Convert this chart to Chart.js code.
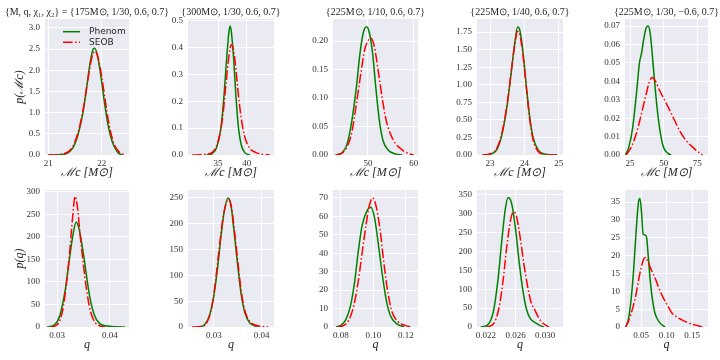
<!DOCTYPE html>
<html>
<head>
<meta charset="utf-8">
<script src="https://cdn.jsdelivr.net/npm/chart.js@4"></script>
<style>
  body { margin: 0; width: 720px; height: 360px; overflow: hidden; background: #fff; position: relative; }
  canvas { position: absolute; }
</style>
</head>
<body>
<script>
// ---- data ----
const seriesNames = ['Phenom', 'SEOB'];
const titles = [
  '{M, q, χ₁, χ₂} = {175M⊙, 1/30, 0.6, 0.7}',
  '{300M⊙, 1/30, 0.6, 0.7}',
  '{225M⊙, 1/10, 0.6, 0.7}',
  '{225M⊙, 1/40, 0.6, 0.7}',
  '{225M⊙, 1/30, −0.6, 0.7}'
];
const xTitles = ['ℳc [M⊙]', 'q'];
const yTitles = ['p(ℳc)', 'p(q)'];

// chirp mass, 175
const p1Phenom = [[21.00,0],[21.30,0.02],[21.45,0.15],[21.55,0.45],[21.65,1.0],[21.72,1.6],[21.78,2.15],[21.84,2.5],[21.87,2.52],[21.92,2.35],[21.98,1.9],[22.05,1.25],[22.12,0.7],[22.20,0.3],[22.30,0.06],[22.38,0]];
const p1Seob = [[21.00,0],[21.25,0.02],[21.45,0.18],[21.55,0.5],[21.65,1.05],[21.72,1.6],[21.79,2.15],[21.85,2.43],[21.88,2.45],[21.93,2.3],[22.00,1.85],[22.07,1.25],[22.14,0.7],[22.22,0.3],[22.32,0.08],[22.45,0]];
const p1XTicks = ['21', '22'];
const p1YTicks = ['0.0', '0.5', '1.0', '1.5', '2.0', '2.5', '3.0'];
const p1XRange = [20.94, 22.51];
const p1YMax = 3.21;

// chirp mass, 300
const p2Phenom = [[33.0,0],[34.0,0.005],[34.8,0.03],[35.5,0.10],[36.0,0.21],[36.5,0.36],[36.9,0.46],[37.1,0.48],[37.3,0.46],[37.7,0.36],[38.1,0.22],[38.5,0.11],[39.0,0.04],[39.6,0.01],[40.5,0]];
const p2Seob = [[30.5,0],[32.5,0.002],[34.0,0.01],[35.0,0.05],[35.8,0.14],[36.4,0.27],[36.9,0.37],[37.3,0.41],[37.6,0.40],[38.0,0.34],[38.5,0.23],[39.0,0.14],[39.6,0.07],[40.5,0.025],[41.5,0.01],[42.5,0.003],[44.0,0]];
const p2XTicks = ['35', '40'];
const p2YTicks = ['0.0', '0.1', '0.2', '0.3', '0.4', '0.5'];
const p2XRange = [29.8, 44.7];
const p2YMax = 0.506;

// chirp mass, 225 q=1/10
const p3Phenom = [[43.0,0],[44.5,0.005],[45.5,0.02],[46.5,0.06],[47.5,0.12],[48.3,0.18],[49.0,0.215],[49.7,0.225],[50.3,0.215],[51.0,0.18],[51.7,0.12],[52.5,0.06],[53.3,0.025],[54.5,0.008],[56.0,0.002],[57.5,0]];
const p3Seob = [[43.0,0],[44.5,0.004],[45.5,0.015],[46.5,0.04],[47.5,0.09],[48.4,0.14],[49.3,0.185],[50.0,0.2],[50.7,0.205],[51.4,0.19],[52.2,0.15],[53.1,0.10],[54.0,0.06],[55.0,0.035],[56.0,0.02],[57.0,0.012],[58.0,0.006],[59.0,0.002],[60.0,0]];
const p3XTicks = ['50', '60'];
const p3YTicks = ['0.00', '0.05', '0.10', '0.15', '0.20'];
const p3XRange = [42.4, 60.9];
const p3YMax = 0.2386;

// chirp mass, 225 q=1/40
const p4Phenom = [[22.78,0],[23.00,0.01],[23.20,0.08],[23.35,0.3],[23.50,0.72],[23.62,1.2],[23.72,1.6],[23.80,1.82],[23.85,1.8],[23.95,1.5],[24.05,1.0],[24.15,0.55],[24.25,0.25],[24.40,0.07],[24.60,0.01],[24.95,0]];
const p4Seob = [[22.78,0],[23.00,0.015],[23.20,0.1],[23.35,0.32],[23.50,0.74],[23.62,1.2],[23.72,1.58],[23.80,1.76],[23.86,1.72],[23.95,1.45],[24.05,0.98],[24.15,0.52],[24.25,0.22],[24.40,0.05],[24.60,0.008],[24.95,0]];
const p4XTicks = ['23', '24', '25'];
const p4YTicks = ['0.00', '0.25', '0.50', '0.75', '1.00', '1.25', '1.50', '1.75'];
const p4XRange = [22.62, 25.12];
const p4YMax = 1.935;

// chirp mass, 225 chi1=-0.6
const p5Phenom = [[21.5,0],[24,0.004],[27,0.015],[30,0.035],[32,0.05],[33.5,0.055],[35,0.062],[37,0.069],[38.5,0.07],[40,0.066],[41.5,0.055],[43,0.042],[44.5,0.03],[46,0.02],[48,0.01],[50,0.004],[53,0.001],[55.5,0]];
const p5Seob = [[22,0],[25,0.003],[28,0.008],[31,0.015],[34,0.024],[37,0.033],[39.5,0.04],[41.7,0.042],[44,0.04],[47,0.035],[50.5,0.03],[54,0.025],[58,0.019],[62,0.013],[65.5,0.009],[69,0.006],[72,0.004],[75,0.002],[79,0]];
const p5XTicks = ['25', '50', '75'];
const p5YTicks = ['0.00', '0.01', '0.02', '0.03', '0.04', '0.05', '0.06', '0.07'];
const p5XRange = [21.25, 83];
const p5YMax = 0.0738;

// mass ratio, 175
const p6Phenom = [[0.0281,0],[0.0295,5],[0.0305,25],[0.0315,80],[0.0322,140],[0.0330,205],[0.0336,233],[0.0342,215],[0.0350,160],[0.0356,110],[0.0362,65],[0.0370,28],[0.0380,8],[0.0395,2],[0.0410,0.5],[0.0428,0]];
const p6Seob = [[0.0287,0],[0.0300,5],[0.0310,35],[0.0318,100],[0.0324,170],[0.0329,240],[0.0334,290],[0.0338,270],[0.0343,210],[0.0349,145],[0.0356,80],[0.0363,35],[0.0372,10],[0.0382,2],[0.0391,0]];
const p6XTicks = ['0.03', '0.04'];
const p6YTicks = ['0', '50', '100', '150', '200', '250', '300'];
const p6XRange = [0.0277, 0.0436];
const p6YMax = 304;

// mass ratio, 300
const p7Phenom = [[0.0267,0],[0.0280,4],[0.0290,20],[0.0300,60],[0.0308,115],[0.0315,175],[0.0322,225],[0.0330,250],[0.0336,235],[0.0343,180],[0.0350,120],[0.0357,65],[0.0365,28],[0.0375,8],[0.0392,0]];
const p7Seob = [[0.0254,0],[0.0275,1],[0.0285,8],[0.0295,35],[0.0303,85],[0.0311,150],[0.0319,210],[0.0326,240],[0.0331,248],[0.0337,232],[0.0344,180],[0.0351,120],[0.0358,65],[0.0366,28],[0.0376,10],[0.0390,3],[0.0413,0]];
const p7XTicks = ['0.03', '0.04'];
const p7YTicks = ['0', '50', '100', '150', '200', '250'];
const p7XRange = [0.0246, 0.0426];
const p7YMax = 265.5;

// mass ratio, q=1/10
const p8Phenom = [[0.0770,0],[0.0800,1],[0.0830,4],[0.0860,12],[0.0885,25],[0.0905,40],[0.0930,55],[0.0960,63],[0.0983,65],[0.1005,60],[0.1030,45],[0.1055,28],[0.1080,14],[0.1105,6],[0.1140,2],[0.1190,0]];
const p8Seob = [[0.0780,0],[0.0820,1],[0.0850,4],[0.0880,12],[0.0905,24],[0.0930,40],[0.0955,56],[0.0975,66],[0.0995,70],[0.1015,66],[0.1040,53],[0.1065,34],[0.1090,18],[0.1115,8],[0.1150,3],[0.1190,1],[0.1235,0]];
const p8XTicks = ['0.08', '0.10', '0.12'];
const p8YTicks = ['0', '10', '20', '30', '40', '50', '60', '70'];
const p8XRange = [0.0751, 0.1274];
const p8YMax = 74.3;

// mass ratio, q=1/40
const p9Phenom = [[0.0213,0],[0.0222,5],[0.0230,40],[0.0236,120],[0.0241,220],[0.0246,310],[0.0250,343],[0.0255,325],[0.0260,260],[0.0265,170],[0.0270,95],[0.0275,45],[0.0280,22],[0.0286,12],[0.0292,5],[0.0298,0]];
const p9Seob = [[0.0221,0],[0.0230,8],[0.0237,45],[0.0243,120],[0.0248,210],[0.0253,280],[0.0257,305],[0.0261,295],[0.0266,240],[0.0271,170],[0.0276,110],[0.0281,65],[0.0286,45],[0.0291,25],[0.0297,10],[0.0305,0]];
const p9XTicks = ['0.022', '0.026', '0.030'];
const p9YTicks = ['0', '50', '100', '150', '200', '250', '300', '350'];
const p9XRange = [0.0208, 0.0324];
const p9YMax = 363;

// mass ratio, chi1=-0.6
const p10Phenom = [[0.020,0],[0.025,2],[0.030,7],[0.035,15],[0.040,26],[0.045,35],[0.048,36],[0.051,32],[0.054,26],[0.058,25.8],[0.061,25],[0.064,20],[0.068,13],[0.072,8],[0.077,4],[0.085,1.5],[0.097,0]];
const p10Seob = [[0.020,0],[0.025,1.5],[0.030,3.5],[0.035,6],[0.040,9],[0.045,13],[0.050,16.5],[0.055,19],[0.059,19.5],[0.063,18.5],[0.070,16],[0.078,13.5],[0.086,10.5],[0.094,8],[0.102,6],[0.110,4],[0.120,2.8],[0.130,2],[0.140,1.3],[0.150,0.8],[0.160,0.4],[0.170,0]];
const p10XTicks = ['0.05', '0.10', '0.15'];
const p10YTicks = ['0', '5', '10', '15', '20', '25', '30', '35'];
const p10XRange = [0.0186, 0.181];
const p10YMax = 38.4;

const panels = [
  { phenom: p1Phenom, seob: p1Seob, xTicks: p1XTicks, yTicks: p1YTicks, xRange: p1XRange, yMax: p1YMax },
  { phenom: p2Phenom, seob: p2Seob, xTicks: p2XTicks, yTicks: p2YTicks, xRange: p2XRange, yMax: p2YMax },
  { phenom: p3Phenom, seob: p3Seob, xTicks: p3XTicks, yTicks: p3YTicks, xRange: p3XRange, yMax: p3YMax },
  { phenom: p4Phenom, seob: p4Seob, xTicks: p4XTicks, yTicks: p4YTicks, xRange: p4XRange, yMax: p4YMax },
  { phenom: p5Phenom, seob: p5Seob, xTicks: p5XTicks, yTicks: p5YTicks, xRange: p5XRange, yMax: p5YMax },
  { phenom: p6Phenom, seob: p6Seob, xTicks: p6XTicks, yTicks: p6YTicks, xRange: p6XRange, yMax: p6YMax },
  { phenom: p7Phenom, seob: p7Seob, xTicks: p7XTicks, yTicks: p7YTicks, xRange: p7XRange, yMax: p7YMax },
  { phenom: p8Phenom, seob: p8Seob, xTicks: p8XTicks, yTicks: p8YTicks, xRange: p8XRange, yMax: p8YMax },
  { phenom: p9Phenom, seob: p9Seob, xTicks: p9XTicks, yTicks: p9YTicks, xRange: p9XRange, yMax: p9YMax },
  { phenom: p10Phenom, seob: p10Seob, xTicks: p10XTicks, yTicks: p10YTicks, xRange: p10XRange, yMax: p10YMax }
];

// ---- layout: plot area edges in page pixels ----
const cols = [[45, 129], [188, 274], [333, 418], [477, 563], [625, 708]];
const rows = [[19, 155], [190, 327]];
const SIDE = 45, TOP = 19, BOTTOM = 33;

Chart.defaults.font.family = '"Liberation Serif", serif';
Chart.defaults.color = '#333';

const plotBg = {
  id: 'plotBg',
  beforeDraw(chart) {
    const { ctx, chartArea: a } = chart;
    ctx.save();
    ctx.fillStyle = '#eaeaf2';
    ctx.fillRect(a.left, a.top, a.width, a.height);
    ctx.restore();
  }
};

// title centred over the plot area (the built-in one centres over the whole canvas)
const panelTitle = {
  id: 'panelTitle',
  afterDraw(chart, args, opts) {
    if (!opts.text) return;
    const { ctx, chartArea: a } = chart;
    ctx.save();
    ctx.font = '10px "Liberation Serif", serif';
    ctx.fillStyle = '#262626';
    ctx.textAlign = 'center';
    ctx.textBaseline = 'middle';
    ctx.fillText(opts.text, (a.left + a.right) / 2, a.top - 7);
    ctx.restore();
  }
};

// legend drawn inside the first panel, like the matplotlib one
const innerLegend = {
  id: 'innerLegend',
  afterDatasetsDraw(chart) {
    const { ctx, chartArea: a } = chart;
    chart.data.datasets.forEach((ds, i) => {
      const y = a.top + 12.7 + i * 10.6;
      ctx.save();
      ctx.strokeStyle = ds.borderColor;
      ctx.lineWidth = ds.borderWidth;
      ctx.setLineDash(ds.borderDash || []);
      ctx.beginPath();
      ctx.moveTo(a.left + 18, y);
      ctx.lineTo(a.left + 35, y);
      ctx.stroke();
      ctx.setLineDash([]);
      ctx.fillStyle = '#262626';
      ctx.font = '9px "DejaVu Sans"';
      ctx.textBaseline = 'middle';
      ctx.fillText(ds.label, a.left + 44, y);
      ctx.restore();
    });
  }
};

panels.forEach((p, i) => {
  const col = i % 5, row = Math.floor(i / 5);
  const [l, r] = cols[col];
  const [t, b] = rows[row];
  const cv = document.createElement('canvas');
  cv.width = r - l + 2 * SIDE;
  cv.height = b - t + TOP + BOTTOM;
  cv.style.left = (l - SIDE) + 'px';
  cv.style.top = (t - TOP) + 'px';
  document.body.appendChild(cv);

  new Chart(cv, {
    type: 'line',
    data: {
      datasets: [
        {
          label: seriesNames[0],
          data: p.phenom.map(([x, y]) => ({ x, y })),
          borderColor: '#008000',
          borderWidth: 1.5,
          pointRadius: 0,
          cubicInterpolationMode: 'monotone',
          order: 1
        },
        {
          label: seriesNames[1],
          data: p.seob.map(([x, y]) => ({ x, y })),
          borderColor: '#ff0000',
          borderWidth: 1.5,
          borderDash: [9.6, 2.4, 1.5, 2.4],
          pointRadius: 0,
          cubicInterpolationMode: 'monotone',
          order: 0
        }
      ]
    },
    options: {
      responsive: false,
      animation: false,
      devicePixelRatio: 1,
      layout: { autoPadding: false, padding: { left: 0, right: SIDE, top: TOP, bottom: 0 } },
      plugins: {
        legend: { display: false },
        tooltip: { enabled: false },
        title: { display: false },
        panelTitle: { text: row === 0 ? titles[col] : '' }
      },
      scales: {
        x: {
          type: 'linear',
          min: p.xRange[0],
          max: p.xRange[1],
          afterBuildTicks: s => { s.ticks = p.xTicks.map(v => ({ value: parseFloat(v) })); },
          afterFit: s => { s.height = BOTTOM; },
          ticks: { autoSkip: false, maxRotation: 0, padding: 3, font: { size: 9 }, callback: (v, k) => p.xTicks[k] },
          grid: { color: '#fff', lineWidth: 1, drawTicks: false },
          border: { display: false },
          title: { display: true, text: xTitles[row], color: '#262626', font: { size: 12, style: 'italic' }, padding: { top: 0, bottom: 8 } }
        },
        y: {
          min: 0,
          max: p.yMax,
          afterBuildTicks: s => { s.ticks = p.yTicks.map(v => ({ value: parseFloat(v) })); },
          afterFit: s => { s.width = SIDE; },
          ticks: { autoSkip: false, padding: 5, font: { size: 9 }, callback: (v, k) => p.yTicks[k] },
          grid: { color: '#fff', lineWidth: 1, drawTicks: false },
          border: { display: false },
          title: { display: col === 0, text: yTitles[row], color: '#262626', font: { size: 12, style: 'italic' }, padding: { top: 13, bottom: 0 } }
        }
      }
    },
    plugins: i === 0 ? [plotBg, panelTitle, innerLegend] : [plotBg, panelTitle]
  });
});
</script>
</body>
</html>
